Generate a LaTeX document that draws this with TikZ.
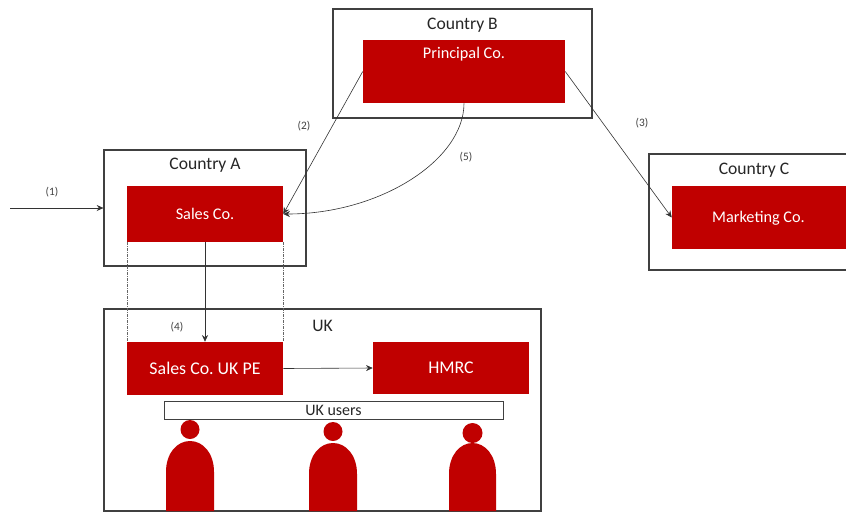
\documentclass[tikz,border=0pt]{standalone}
\usepackage{fontspec}
\setmainfont{Carlito}
\usetikzlibrary{arrows.meta}
\definecolor{redbox}{HTML}{C00000}
\definecolor{edge}{HTML}{404040}
\frenchspacing
\tikzset{
  outerbox/.style={draw=edge,line width=0.9pt,fill=white,rectangle,inner sep=0pt},
  redrect/.style={fill=redbox,draw=none,rectangle,inner sep=0pt,text=white,font=\fontsize{12.2}{14}\selectfont},
  title/.style={text=black!85,font=\fontsize{13.2}{15}\selectfont,inner sep=0pt},
  small/.style={text=black!75,font=\fontsize{8.5}{10}\selectfont,inner sep=0pt},
  link/.style={draw=black!80,line width=0.45pt,-{Stealth[length=5pt,width=4.5pt]}},
  guide/.style={draw=black!60,line width=0.3pt,dash pattern=on 2pt off 1pt on 0.5pt off 1pt},
  person/.style={fill=redbox,draw=none},
}
\begin{document}
\begin{tikzpicture}[x=0.75pt,y=-0.75pt]
\useasboundingbox (0,0) rectangle (846,512);
\clip (0,0) rectangle (846,512);
% outer boxes
\node[outerbox,minimum width=194.25pt,minimum height=81.75pt] (B) at (462.5,63.5) {};
\node[outerbox,minimum width=151.5pt,minimum height=87pt] (A) at (205,208) {};
\node[outerbox,minimum width=150pt,minimum height=87pt] (C) at (749,212) {};
\node[outerbox,minimum width=327.75pt,minimum height=151.5pt] (UK) at (322.5,410) {};
% red boxes
\node[redrect,minimum width=151.5pt,minimum height=47.25pt] (P) at (464,71.5) {};
\node[redrect,minimum width=117pt,minimum height=42pt] (S) at (205,214) {Sales Co.};
\node[redrect,minimum width=135pt,minimum height=47.25pt] (M) at (762,217.5) {};
\node[redrect,minimum width=117pt,minimum height=39.75pt,font=\fontsize{13.4}{15}\selectfont] (PE) at (205,368.5) {Sales Co. UK PE};
\node[redrect,minimum width=117pt,minimum height=39pt,font=\fontsize{13.4}{15}\selectfont] (H) at (451,368) {HMRC};
\node[redrect,minimum width=0pt,minimum height=0pt] (Ptext) at (464,54) {Principal Co.};
\node[redrect,minimum width=0pt,minimum height=0pt] (Mtext) at (758.5,218) {Marketing Co.};
% titles
\node[title] (tB) at (462.5,25) {Country B};
\node[title] (tA) at (205,165.5) {Country A};
\node[title] (tC) at (754,170) {Country C};
\node[title] (tUK) at (322.5,325.5) {UK};
\node[draw=edge,line width=0.7pt,fill=white,rectangle,inner sep=0pt,minimum width=254.25pt,minimum height=13.5pt,text=black!85,font=\fontsize{12}{14}\selectfont] (U) at (333.5,410) {UK users};
% labels
\node[small] (l1) at (52,192) {(1)};
\node[small] (l2) at (304,126) {(2)};
\node[small] (l3) at (642,123) {(3)};
\node[small] (l4) at (177,327) {(4)};
\node[small] (l5) at (466,157) {(5)};
% people
\node[circle,person,minimum size=14.25pt,inner sep=0pt] (h1) at (190,429.5) {};
\node[circle,person,minimum size=14.25pt,inner sep=0pt] (h2) at (333,431.5) {};
\node[circle,person,minimum size=15pt,inner sep=0pt] (h3) at (472.5,433) {};
\fill[person] (166,511) -- (166,472) .. controls (166,453) and (177,441) .. (190,441) .. controls (203,441) and (214,453) .. (214,472) -- (214,511) -- cycle;
\fill[person] (309,511) -- (309,474) .. controls (309,455) and (320,443) .. (333,443) .. controls (346,443) and (357,455) .. (357,474) -- (357,511) -- cycle;
\fill[person] (449,511) -- (449,474) .. controls (449,455) and (460,443) .. (472.5,443) .. controls (485,443) and (496,455) .. (496,474) -- (496,511) -- cycle;
% connectors
\coordinate (start) at (10,208);
\draw[link] (start) -- (A.west);
\draw[link] (P.west) -- (S.east);
\draw[link] (P.east) -- (M.west);
\draw[link] (P.south) .. controls (464,160) and (380,214) .. (S.east);
\draw[link] (S.south) -- (PE.north);
\draw[link] (PE.east) -- (H.west);
\draw[guide] (S.south west) -- (PE.north west);
\draw[guide] (S.south east) -- (PE.north east);
\end{tikzpicture}
\end{document}
